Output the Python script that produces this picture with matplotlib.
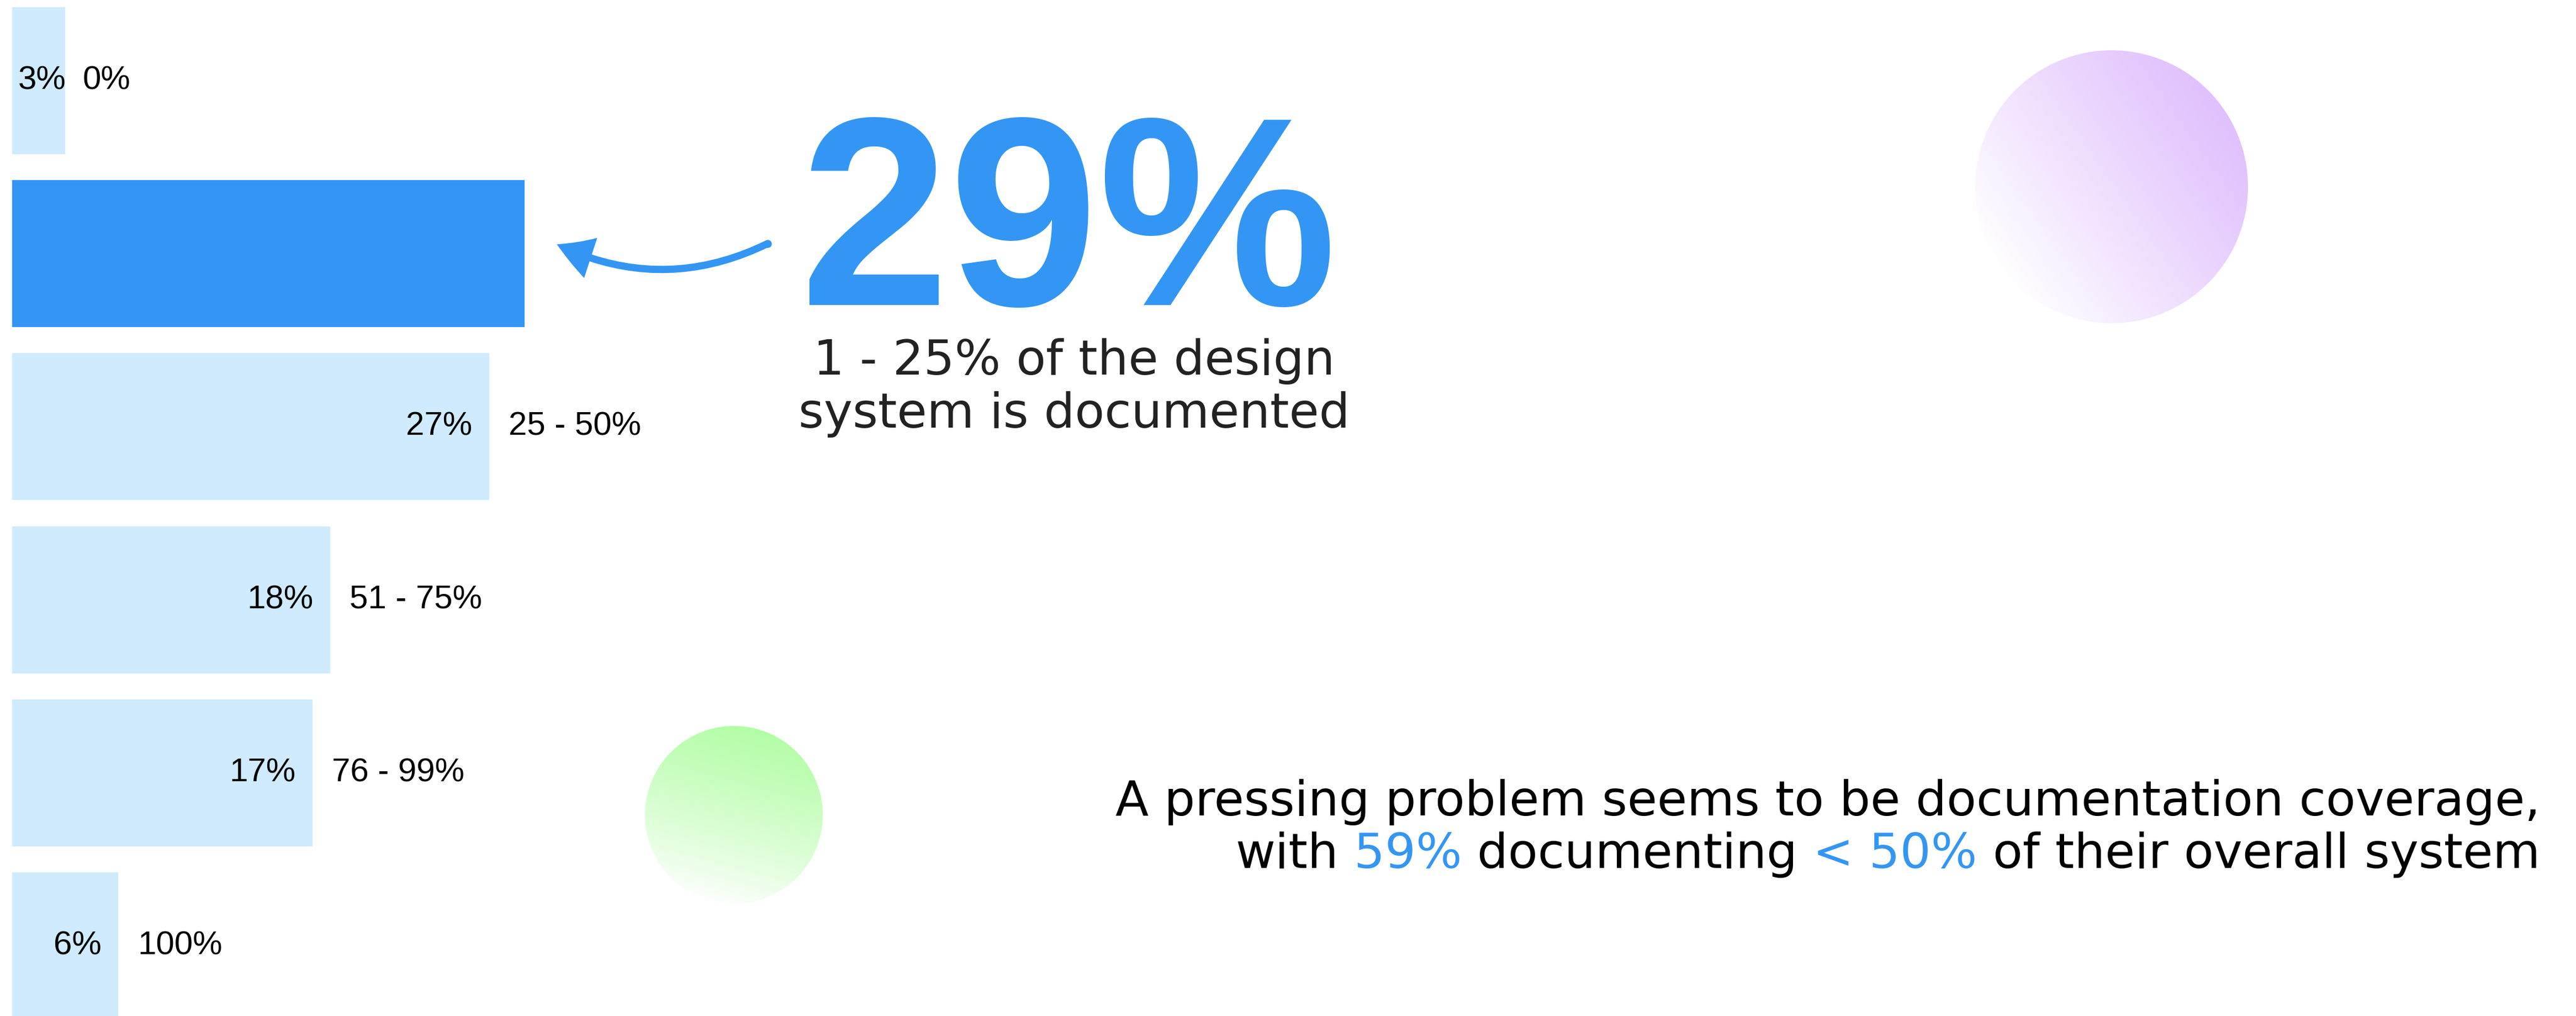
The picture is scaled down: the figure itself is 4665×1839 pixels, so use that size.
import numpy as np
import matplotlib
matplotlib.use("Agg")
import matplotlib.pyplot as plt
from matplotlib.patches import Circle, FancyArrowPatch

# ---------------- data ----------------
categories = ["0%", "1 - 25%", "25 - 50%", "51 - 75%", "76 - 99%", "100%"]
values = [3, 29, 27, 18, 17, 6]
value_labels = ["3%", "29%", "27%", "18%", "17%", "6%"]
highlight_index = 1

headline_value = "29%"
headline_caption = ["1 - 25% of the design", "system is documented"]
summary_line1 = "A pressing problem seems to be documentation coverage,"
summary_line2_parts = ["with", " 59%", " documenting", " < 50%", " of their overall system"]
summary_line2_highlight = [False, True, False, True, False]

# ---------------- style / layout ----------------
W, H, DPI = 4665, 1839, 100
BLUE = "#3396F4"
LIGHT = "#CFEBFD"
TEXT_DARK = "#222222"
PX_PER_PCT = 32.0
LEFT_PX = 22.0
ROW0_PX = 146.0
ROW_STEP_PX = 313.2
BAR_H_PX = 266.0


def pt(px):
    return px * 72.0 / DPI


fig = plt.figure(figsize=(W / DPI, H / DPI), dpi=DPI)
fig.patch.set_facecolor("white")

# background axes in pixel coordinates for decorations
bg = fig.add_axes([0, 0, 1, 1])
bg.set_xlim(0, W)
bg.set_ylim(H, 0)
bg.axis("off")


def gradient_circle(cx, cy, r, color, angle_deg, gamma=1.0, z=0):
    n = 500
    xs = np.linspace(cx - r, cx + r, n)
    ys = np.linspace(cy - r, cy + r, n)
    X, Y = np.meshgrid(xs, ys)
    a = np.deg2rad(angle_deg)
    d = np.array([np.cos(a), -np.sin(a)])
    t = ((X - cx) * d[0] + (Y - cy) * d[1]) / r
    t = np.clip((t + 1) / 2, 0, 1) ** gamma
    c = np.array(matplotlib.colors.to_rgb(color))
    rgb = 1 - (1 - c)[None, None, :] * t[..., None]
    im = bg.imshow(rgb, extent=(cx - r, cx + r, cy + r, cy - r), origin="upper",
                   zorder=z, interpolation="bilinear", aspect="auto")
    circ = Circle((cx, cy), r, transform=bg.transData, facecolor="none", edgecolor="none")
    bg.add_patch(circ)
    im.set_clip_path(circ)


gradient_circle(3824, 338, 247, "#E0C0FD", 35, gamma=0.9)
gradient_circle(1329, 1475, 161, "#B3FDA6", 75, gamma=0.8)
bg.set_xlim(0, W)
bg.set_ylim(H, 0)

# curved arrow
arrow = FancyArrowPatch((1392, 440), (1006, 441),
                        connectionstyle="arc3,rad=-0.245",
                        arrowstyle="simple,head_length=0.475,head_width=0.55,tail_width=0.094",
                        mutation_scale=100, color=BLUE, lw=0, zorder=3)
bg.add_patch(arrow)
bg.plot([1390], [441], "o", color=BLUE, markersize=pt(13), zorder=3)

# headline
bg.text(1935, 552, headline_value, ha="center", va="baseline", color=BLUE,
        fontsize=350, fontweight="bold", family=["Liberation Sans", "DejaVu Sans"], zorder=4)
for i, line in enumerate(headline_caption):
    bg.text(1945, 678 + 96 * i, line, ha="center", va="baseline", color=TEXT_DARK,
            fontsize=pt(88), family=["DejaVu Sans"], zorder=4)

# summary text
SUM_FS = pt(88)
bg.text(4600, 1476, summary_line1, ha="right", va="baseline", color="black",
        fontsize=SUM_FS, family=["DejaVu Sans"], zorder=4)
renderer = fig.canvas.get_renderer()
x = 4600
for part, hl in zip(reversed(summary_line2_parts), reversed(summary_line2_highlight)):
    t = bg.text(x, 1571, part, ha="right", va="baseline", color=BLUE if hl else "black",
                fontsize=SUM_FS, family=["DejaVu Sans"], zorder=4)
    x -= t.get_window_extent(renderer=renderer).width

# ---------------- bar chart ----------------
ax = fig.add_axes([0, 0, 1, 1])
ax.patch.set_alpha(0)
ax.axis("off")
ax.set_xlim(-LEFT_PX / PX_PER_PCT, (W - LEFT_PX) / PX_PER_PCT)
ax.set_ylim((H - ROW0_PX) / ROW_STEP_PX, -ROW0_PX / ROW_STEP_PX)

ypos = np.arange(len(values))
colors = [BLUE if i == highlight_index else LIGHT for i in range(len(values))]
ax.barh(ypos, values, height=BAR_H_PX / ROW_STEP_PX, color=colors, zorder=2)

LABEL_FS = pt(60)
lab_font = ["Liberation Sans", "DejaVu Sans"]
for i, (v, vl, cat) in enumerate(zip(values, value_labels, categories)):
    if i == highlight_index:
        continue
    if v < 5:
        ax.text(0.34, i, vl, ha="left", va="center", fontsize=LABEL_FS,
                family=lab_font, color="black", zorder=3)
        ax.text(v + 1.0, i, cat, ha="left", va="center", fontsize=LABEL_FS,
                family=lab_font, color="black", zorder=3)
    else:
        ax.text(v - 0.95, i, vl, ha="right", va="center", fontsize=LABEL_FS,
                family=lab_font, color="black", zorder=3)
        ax.text(v + 1.1, i, cat, ha="left", va="center", fontsize=LABEL_FS,
                family=lab_font, color="black", zorder=3)

fig.savefig("out.png", dpi=DPI, facecolor="white")
